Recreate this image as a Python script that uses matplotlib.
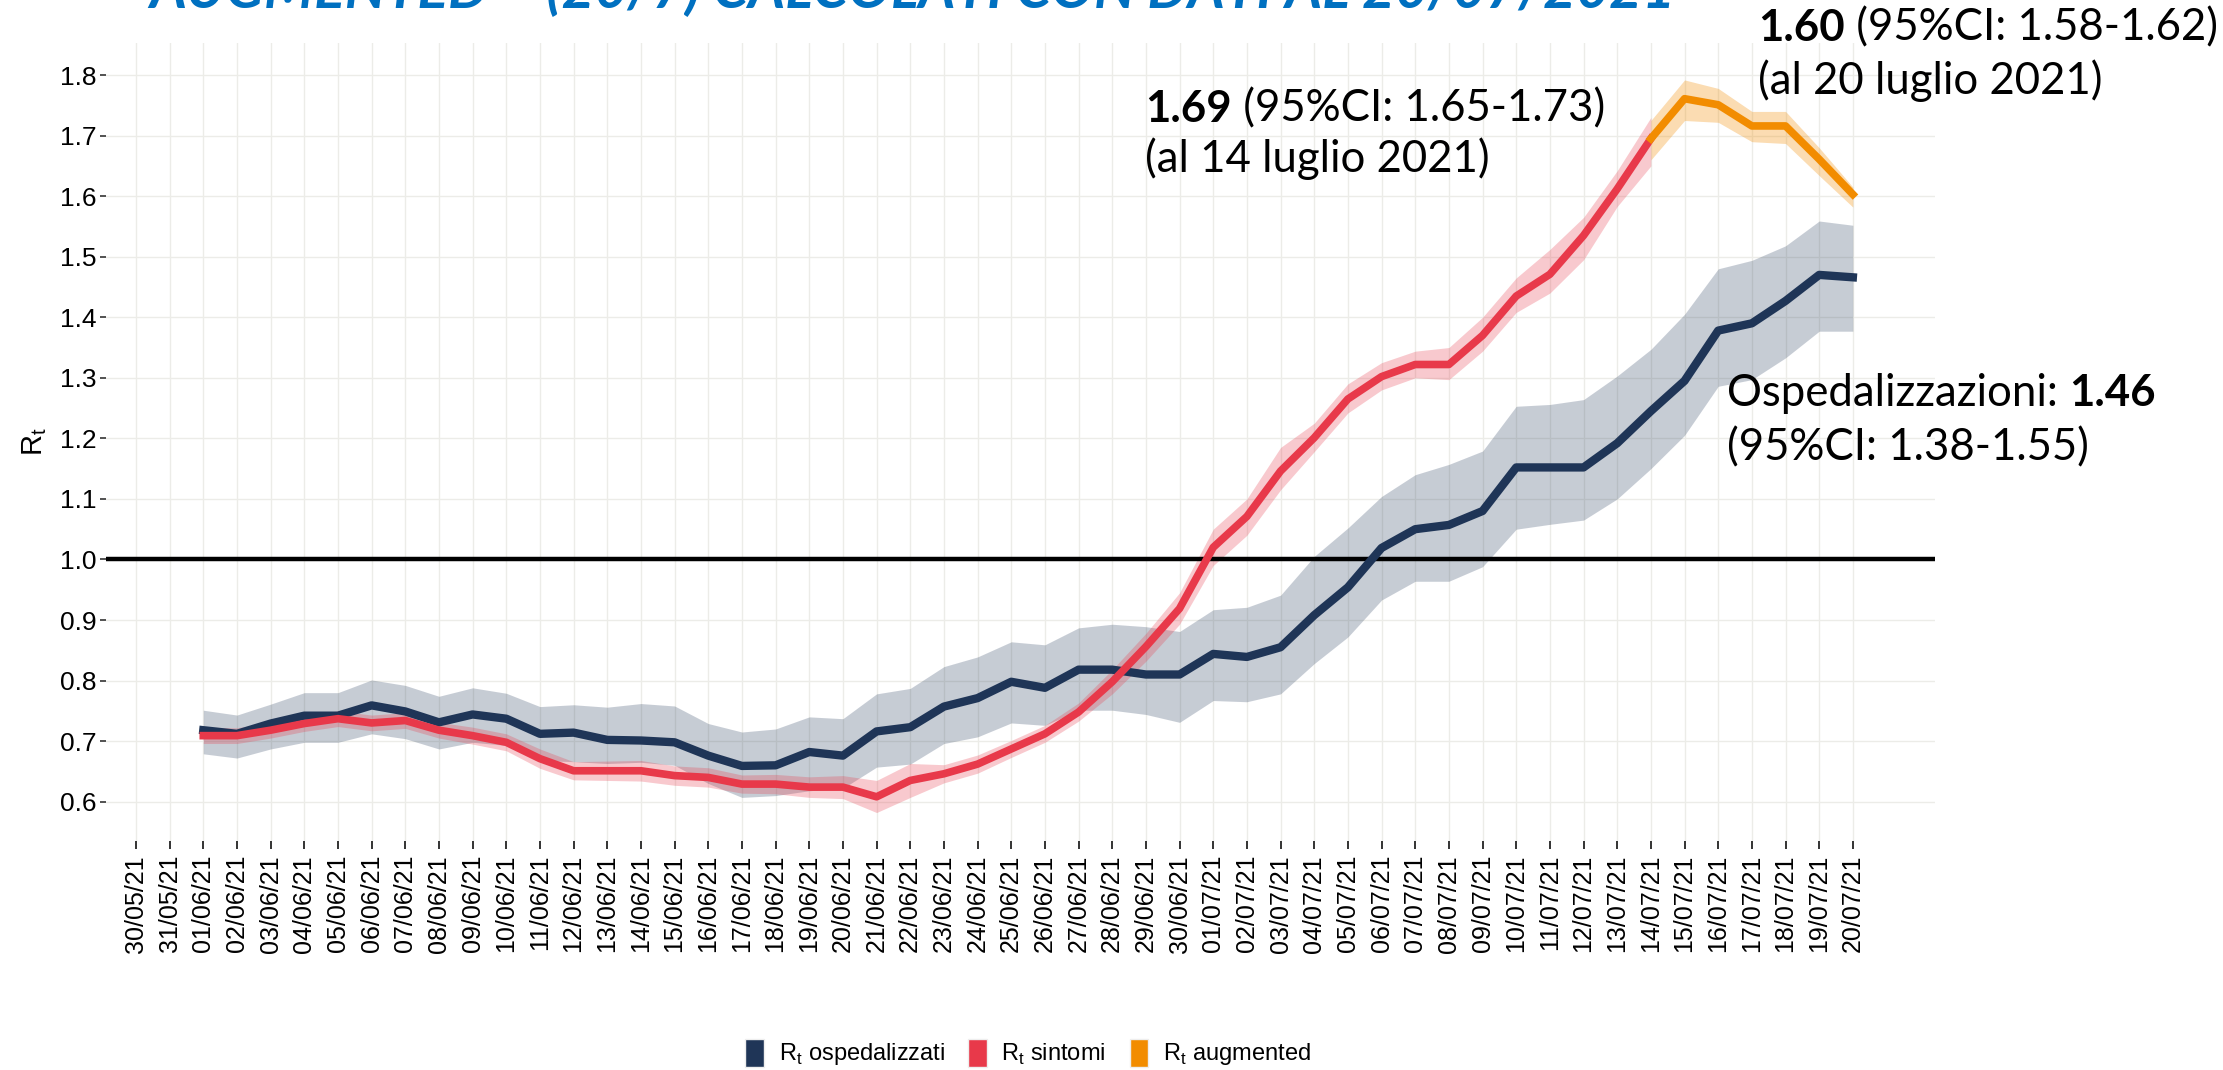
import numpy as np
import pandas as pd
import matplotlib
matplotlib.use('Agg')
import matplotlib.pyplot as plt
import matplotlib.dates as mdates
from matplotlib.patches import Patch

# date
giorni_osp = pd.date_range('2021-06-01', '2021-07-20')
giorni_sint = pd.date_range('2021-06-01', '2021-07-14')
giorni_aug = pd.date_range('2021-07-14', '2021-07-20')
giorni_tick = pd.date_range('2021-05-30', '2021-07-20')

# Rt ospedalizzati (stima e IC 95%)
rt_osp = [0.718, 0.712, 0.729, 0.742, 0.742, 0.759, 0.749, 0.731, 0.744, 0.737,
          0.712, 0.714, 0.702, 0.701, 0.698, 0.676, 0.659, 0.660, 0.682, 0.676,
          0.716, 0.723, 0.757, 0.771, 0.798, 0.788, 0.818, 0.818, 0.810, 0.810,
          0.844, 0.839, 0.855, 0.908, 0.954, 1.019, 1.050, 1.057, 1.080, 1.152,
          1.152, 1.152, 1.192, 1.245, 1.295, 1.378, 1.390, 1.427, 1.470, 1.466]
osp_lo = [0.679, 0.672, 0.687, 0.698, 0.698, 0.712, 0.704, 0.687, 0.698, 0.693,
          0.668, 0.666, 0.663, 0.665, 0.660, 0.630, 0.607, 0.610, 0.618, 0.622,
          0.657, 0.662, 0.696, 0.707, 0.730, 0.726, 0.751, 0.751, 0.744, 0.731,
          0.767, 0.765, 0.778, 0.828, 0.872, 0.933, 0.964, 0.964, 0.988, 1.050,
          1.058, 1.065, 1.100, 1.150, 1.205, 1.286, 1.297, 1.333, 1.377, 1.377]
osp_hi = [0.751, 0.743, 0.761, 0.780, 0.780, 0.801, 0.792, 0.774, 0.788, 0.779,
          0.757, 0.760, 0.756, 0.762, 0.758, 0.729, 0.715, 0.720, 0.740, 0.737,
          0.778, 0.787, 0.823, 0.839, 0.864, 0.859, 0.887, 0.893, 0.889, 0.881,
          0.917, 0.921, 0.941, 1.005, 1.052, 1.104, 1.140, 1.157, 1.179, 1.253,
          1.256, 1.264, 1.303, 1.347, 1.405, 1.480, 1.494, 1.518, 1.559, 1.552]

# Rt sintomi
rt_sint = [0.709, 0.709, 0.718, 0.729, 0.737, 0.730, 0.734, 0.718, 0.709, 0.698,
           0.671, 0.651, 0.651, 0.651, 0.643, 0.640, 0.629, 0.629, 0.624, 0.624,
           0.608, 0.635, 0.646, 0.662, 0.687, 0.712, 0.748, 0.798, 0.856, 0.919,
           1.020, 1.071, 1.146, 1.201, 1.265, 1.302, 1.322, 1.322, 1.370, 1.435,
           1.471, 1.535, 1.612, 1.695]
sint_lo = [0.696, 0.696, 0.705, 0.716, 0.724, 0.717, 0.721, 0.705, 0.695, 0.684,
           0.655, 0.636, 0.635, 0.634, 0.627, 0.624, 0.614, 0.613, 0.607, 0.605,
           0.582, 0.607, 0.631, 0.647, 0.673, 0.698, 0.733, 0.778, 0.832, 0.893,
           0.990, 1.040, 1.115, 1.178, 1.242, 1.280, 1.300, 1.297, 1.344, 1.408,
           1.440, 1.495, 1.583, 1.650]
sint_hi = [0.723, 0.722, 0.731, 0.742, 0.750, 0.743, 0.747, 0.731, 0.723, 0.712,
           0.687, 0.666, 0.667, 0.668, 0.659, 0.656, 0.644, 0.645, 0.641, 0.643,
           0.635, 0.663, 0.661, 0.677, 0.701, 0.726, 0.763, 0.818, 0.878, 0.945,
           1.050, 1.100, 1.185, 1.225, 1.290, 1.325, 1.344, 1.350, 1.400, 1.465,
           1.512, 1.565, 1.642, 1.730]

# Rt augmented
rt_aug = [1.695, 1.761, 1.751, 1.716, 1.716, 1.661, 1.603]
aug_lo = [1.660, 1.725, 1.722, 1.690, 1.687, 1.634, 1.582]
aug_hi = [1.725, 1.792, 1.778, 1.740, 1.740, 1.680, 1.615]

c_osp = '#1F3557'
c_sint = '#E8394A'
c_aug = '#F28C00'

plt.rcParams['font.family'] = ['Liberation Sans', 'DejaVu Sans']

W, H = 2223, 1070
fig = plt.figure(figsize=(W / 100, H / 100), dpi=100)
ax = fig.add_axes([106 / W, 1 - 841 / H, (1935 - 106) / W, (841 - 43) / H])

ax.fill_between(giorni_osp, osp_lo, osp_hi, color=c_osp, alpha=0.25, lw=0)
ax.fill_between(giorni_sint, sint_lo, sint_hi, color=c_sint, alpha=0.27, lw=0)
ax.fill_between(giorni_aug, aug_lo, aug_hi, color=c_aug, alpha=0.3, lw=0)
ax.axhline(1.0, color='black', lw=3.2)
ax.plot(giorni_osp, rt_osp, color=c_osp, lw=6)
ax.plot(giorni_sint, rt_sint, color=c_sint, lw=5.5)
ax.plot(giorni_aug, rt_aug, color=c_aug, lw=5.5)

x0 = mdates.date2num(pd.Timestamp('2021-05-30'))
ax.set_xlim(x0 - 0.89, x0 + 53.44)
ax.set_ylim(0.535, 1.853)
ax.set_xticks(giorni_tick)
ax.set_xticklabels([d.strftime('%d/%m/%y') for d in giorni_tick], rotation=90, fontsize=18)
ax.set_yticks(np.arange(0.6, 1.81, 0.1))
ax.set_yticklabels(['%.1f' % v for v in np.arange(0.6, 1.81, 0.1)], fontsize=19)
ax.tick_params(axis='x', length=6, width=1.4, color='#333333', pad=4)
ax.tick_params(axis='y', length=4, width=1.2, color='#333333', pad=3)
ax.grid(True, color='#ECECE8', lw=1.0)
ax.set_axisbelow(True)
for s in ax.spines.values():
    s.set_visible(False)
ax.set_ylabel(r'R$_\mathregular{t}$', fontsize=21, labelpad=8)

# legenda
handles = [Patch(facecolor=c_osp, edgecolor='#EEEEEE', label=r'R$_\mathregular{t}$ ospedalizzati'),
           Patch(facecolor=c_sint, edgecolor='#EEEEEE', label=r'R$_\mathregular{t}$ sintomi'),
           Patch(facecolor=c_aug, edgecolor='#EEEEEE', label=r'R$_\mathregular{t}$ augmented')]
fig.legend(handles=handles, loc='center', bbox_to_anchor=(1028 / W, 1 - 1053 / H), ncol=3,
           frameon=False, fontsize=17, handlelength=0.8, handleheight=1.45,
           handletextpad=0.6, columnspacing=1.0)

# titolo tagliato in alto
fig.text(149 / W, 1 - 8 / H, 'AUGMENTED – (20/7) CALCOLATI CON DATI AL 20/07/2021',
         color='#0070C0', fontsize=41, fontweight='bold', style='italic',
         family='Lato', va='baseline')

# annotazioni
def annota(x, y, parti):
    prev = None
    for testo, peso in parti:
        if prev is None:
            prev = fig.text(x / W, 1 - y / H, testo, fontsize=31.5, family='Lato',
                            fontweight=peso, va='center')
        else:
            prev = ax.annotate(testo, xy=(1, 0), xycoords=prev, va='bottom', fontsize=31.5,
                               family='Lato', fontweight=peso, annotation_clip=False)
    return prev

annota(1145, 109, [('1.69', 'bold'), (' (95%CI: 1.65-1.73)', 'normal')])
annota(1145, 159, [('(al 14 luglio 2021)', 'normal')])
annota(1758, 28, [('1.60', 'bold'), (' (95%CI: 1.58-1.62)', 'normal')])
annota(1758, 81, [('(al 20 luglio 2021)', 'normal')])
annota(1727, 393, [('Ospedalizzazioni: ', 'normal'), ('1.46', 'bold')])
annota(1727, 448, [('(95%CI: 1.38-1.55)', 'normal')])

fig.savefig('out.png', dpi=100)
